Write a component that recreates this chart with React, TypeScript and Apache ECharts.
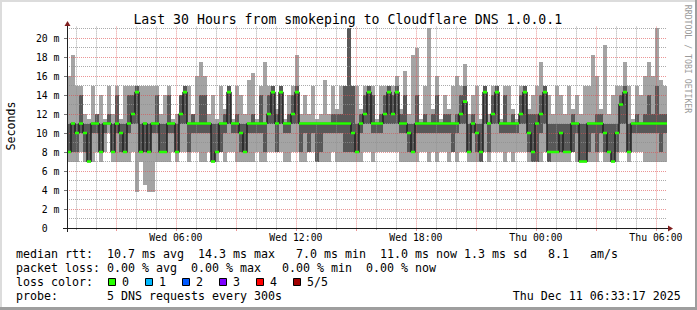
import React, { useEffect, useRef } from 'react';
import * as echarts from 'echarts';

// time axis: hours since Wed 00:00
const startHour = 33 / 60 + 17 / 3600; // Wed 00:33:17
const spanHours = 30;
const endHour = startHour + spanHours;
const stepHours = 0.2; // 12-minute consolidated steps

// smoke: sorted pings per step (ms)
const minMs = [
  7, 7, 7, 8, 7, 7, 7, 8, 7, 8,
  10, 7, 7, 7, 7, 7, 8, 3.8, 7, 4.5,
  3.8, 3.8, 7, 7, 7, 7, 8, 7, 8, 8,
  7, 8, 8, 7, 7, 8, 7, 7, 8, 7,
  8, 8, 7, 7, 7, 7, 7, 8, 7, 7,
  8, 8, 8, 8, 7, 7, 8, 8, 7, 7,
  8, 8, 7, 7, 7, 7, 8, 7, 7, 7,
  7, 7, 7, 7, 8, 8, 7, 8, 8, 8,
  8, 8, 8, 7, 7, 7, 7, 7, 8, 8,
  7, 8, 7, 8, 8, 7, 8, 7, 8, 8,
  7, 7, 7, 7, 8, 7, 8, 8, 8, 7,
  8, 7, 8, 8, 8, 7, 7, 7, 7, 8,
  7, 7, 7, 7, 7, 7, 8, 7, 7, 7,
  7, 7, 7, 8, 7, 7, 7, 7, 8, 8,
  7, 8, 8, 8, 7, 7, 7, 7, 7, 7,
];
const lowMs = [
  8, 8, 8, 10, 8, 7, 10, 10, 8, 10,
  11, 8, 10, 8, 8, 10, 11, 11, 8, 8,
  8, 10, 10, 8, 8, 10, 10, 8, 11, 11,
  8, 10, 10, 10, 10, 10, 7, 8, 8, 10,
  11, 10, 10, 8, 8, 10, 10, 10, 10, 8,
  11, 11, 8, 11, 10, 10, 11, 11, 8, 10,
  8, 10, 7, 8, 10, 10, 10, 10, 10, 8,
  8, 8, 8, 10, 11, 11, 10, 10, 10, 11,
  11, 11, 11, 10, 10, 8, 8, 10, 10, 10,
  10, 10, 10, 10, 10, 10, 8, 10, 11, 11,
  8, 10, 8, 7, 11, 8, 11, 11, 10, 10,
  10, 10, 10, 11, 11, 8, 7, 7, 10, 11,
  7, 8, 8, 8, 8, 8, 8, 10, 7, 7,
  8, 10, 8, 10, 8, 8, 7, 8, 11, 11,
  8, 10, 10, 10, 10, 10, 10, 10, 8, 10,
];
const medianMs = [
  8, 11, 10, 11, 10, 7, 11, 11, 8, 11,
  11, 8, 11, 10, 8, 11, 12, 14.3, 8, 11,
  8, 11, 11, 8, 8, 11, 11, 8, 12, 14.3,
  11, 11, 11, 11, 11, 11, 7, 8, 11, 11,
  14.3, 11, 11, 10, 8, 11, 11, 11, 11, 11,
  12, 14.3, 11, 14.3, 11, 11, 12, 14.3, 11, 11,
  11, 11, 11, 11, 11, 11, 11, 11, 11, 11,
  11, 10, 8, 11, 12, 14.3, 11, 11, 11, 12,
  14.3, 12, 14.3, 11, 11, 10, 8, 11, 11, 11,
  11, 11, 11, 11, 11, 11, 11, 11, 12, 13.3,
  8, 11, 10, 8, 14.3, 11, 12, 14.3, 11, 11,
  11, 11, 11, 12, 14.3, 10, 8, 11, 12, 14.3,
  8, 8, 8, 10, 8, 8, 11, 11, 7, 7,
  11, 11, 11, 11, 10, 8, 7, 10, 13, 14.3,
  8, 11, 11, 11, 11, 11, 11, 11, 11, 11,
];
const highMs = [
  11, 11, 11, 14, 11, 11, 11, 12, 11, 11,
  12, 11, 14, 11, 11, 14, 14, 15, 11, 11,
  11, 11, 14, 11, 11, 14, 11, 11, 14, 15,
  11, 12, 11, 14, 14, 11, 11, 11, 11, 12,
  15, 11, 12, 11, 11, 11, 12, 11, 14, 11,
  14, 15, 12, 15, 11, 12, 14, 15, 11, 11,
  11, 11, 11, 11, 11, 11, 12, 12, 12, 15,
  21.1, 15, 11, 12, 14, 15, 14, 11, 12, 14,
  15, 14, 15, 12, 14, 11, 11, 14, 11, 12,
  11, 12, 14, 11, 12, 12, 11, 12, 14, 15,
  11, 12, 11, 11, 15, 11, 14, 15, 11, 14,
  11, 12, 11, 14, 15, 12, 12, 12, 14, 15,
  11, 11, 11, 11, 11, 11, 12, 11, 11, 11,
  11, 11, 12, 12, 11, 11, 11, 11, 14, 15,
  11, 11, 12, 11, 12, 14, 12, 15, 12, 12,
];
const maxMs = [
  16, 18.2, 15, 15, 12, 11.5, 15, 12, 14, 11.5,
  15, 12, 15, 11.5, 15, 15, 15, 15, 15, 15,
  15, 15, 15, 12, 14, 15, 11.5, 12, 14, 15,
  15, 12, 16, 17.5, 16, 12, 14, 11.5, 15, 12.5,
  15, 11.5, 15, 14, 12, 15.6, 16.3, 11.5, 15, 17.5,
  15, 15, 12.5, 15, 11.5, 14, 15, 18.2, 12, 14,
  12, 15, 11.5, 12, 15.6, 12, 15, 12.5, 15, 15,
  21.1, 15, 15, 12.5, 15, 15, 15, 11.5, 15, 15,
  15, 15, 16, 12.5, 16.5, 12, 18.2, 19, 11.5, 15,
  21.1, 12.5, 16, 11.5, 14, 12.5, 15, 16, 15, 17.3,
  12, 14, 15, 11.5, 15, 12, 15, 15, 11.5, 15,
  15, 12.5, 11.5, 15, 15, 12.5, 14, 15, 17.5, 15,
  14, 12, 15, 14, 12, 15, 12.5, 14, 12, 15,
  15, 18.2, 16, 12.5, 19.3, 12, 14, 15, 15, 17.5,
  15, 11.5, 15, 14, 16, 17.5, 16, 21.1, 15.6, 15,
];

const yMin = 0;
const yMax = 21.2;
const yMajorTicks = [0, 2, 4, 6, 8, 10, 12, 14, 16, 18, 20];
const yMajorLabels = ['0\u00a0\u00a0', '2 m', '4 m', '6 m', '8 m', '10 m', '12 m', '14 m', '16 m', '18 m', '20 m'];
const yMinorTicks = [1, 3, 5, 7, 9, 11, 13, 15, 17, 19, 21];
const xMajorTicks = [3, 6, 9, 12, 15, 18, 21, 24, 27, 30];
const xMinorTicks = [1, 2, 4, 5, 7, 8, 10, 11, 13, 14, 16, 17, 19, 20, 22, 23, 25, 26, 28, 29];
const xLabelTicks = [6, 12, 18, 24, 30];
const xLabelTexts = ['Wed 06:00', 'Wed 12:00', 'Wed 18:00', 'Thu 00:00', 'Thu 06:00'];

const titleText = 'Last 30 Hours from smokeping to Cloudflare DNS 1.0.0.1';
const yAxisTitle = 'Seconds';
const watermarkText = 'RRDTOOL / TOBI OETIKER';
const legendLine1 = 'median rtt:  10.7 ms avg  14.3 ms max   7.0 ms min  11.0 ms now 1.3 ms sd   8.1   am/s';
const legendLine2 = 'packet loss: 0.00 % avg  0.00 % max   0.00 % min  0.00 % now';
const lossLabel = 'loss color:';
const lossNames = ['0', '1', '2', '3', '4', '5/5'];
const lossColors = ['#26ff00', '#00b8ff', '#0059ff', '#7e00ff', '#ff0000', '#a00000'];
const probeLine = 'probe:       5 DNS requests every 300s';
const dateText = 'Thu Dec 11 06:33:17 2025';

const MONO = '"DejaVu Sans Mono", "Liberation Mono", monospace';
const MAJOR_GRID = 'rgba(222,79,79,0.6)';
const MINOR_GRID = 'rgba(143,143,143,0.75)';
const CHAR_W = 7.0;
const LEG_FONT = `11.63px ${MONO}`;

function textRuns(line: string, x0: number, y: number) {
  const out: any[] = [];
  const re = /\S+(?: \S+)*/g;
  let m: RegExpExecArray | null;
  while ((m = re.exec(line))) {
    out.push({
      type: 'text', x: x0 + m.index * CHAR_W, y, z: 20,
      style: { text: m[0], font: LEG_FONT, fill: '#000', textAlign: 'left', textVerticalAlign: 'middle', align: 'left', verticalAlign: 'middle' },
    });
  }
  return out;
}

export default function App() {
  const ref = useRef<HTMLDivElement>(null);
  useEffect(() => {
    const chart = echarts.init(ref.current!, null, { renderer: 'svg' });
    const smokeData = minMs.map((v, i) => [startHour + i * stepHours, v, lowMs[i], medianMs[i], highMs[i], maxMs[i]]);
    const medLine = medianMs.map((v, i) => [startHour + i * stepHours, v]);
    medLine.push([startHour + medianMs.length * stepHours, medianMs[medianMs.length - 1]]);
    const medData = medianMs.map((v, i) => [startHour + i * stepHours, v]);

    const lossGraphics: any[] = [];
    lossNames.forEach((name, k) => {
      const bx = 108 + k * 36.9;
      lossGraphics.push({ type: 'rect', z: 20, shape: { x: Math.round(bx) + 0.5, y: 278.5, width: 7, height: 7 }, style: { fill: lossColors[k], stroke: '#000', lineWidth: 1 } });
      lossGraphics.push({ type: 'text', z: 20, x: Math.round(bx) + 14, y: 282, style: { text: name, font: LEG_FONT, fill: '#000', textAlign: 'left', textVerticalAlign: 'middle', align: 'left', verticalAlign: 'middle' } });
    });

    const option: any = {
      animation: false,
      backgroundColor: '#ffffff',
      grid: { left: 67, right: 30, top: 228 - yMax * 9.5, bottom: 82, containLabel: false },
      xAxis: [
        {
          type: 'value', min: startHour, max: endHour, position: 'bottom', z: 3,
          axisLine: { show: false },
          axisTick: { show: true, customValues: xMajorTicks, length: 3, lineStyle: { color: MAJOR_GRID } },
          axisLabel: {
            customValues: xLabelTicks, margin: 4, color: '#000', fontFamily: MONO, fontSize: 9.8,
            formatter: (v: number) => { const k = xLabelTicks.findIndex((t) => Math.abs(t - v) < 1e-6); return k >= 0 ? xLabelTexts[k] : ''; },
          },
          splitLine: { show: true, lineStyle: { color: MAJOR_GRID, type: [1, 1], width: 1 } },
        },
        {
          type: 'value', min: startHour, max: endHour, position: 'bottom', z: 3,
          axisLine: { show: false },
          axisTick: { show: true, customValues: xMinorTicks, length: 2, lineStyle: { color: MINOR_GRID } },
          axisLabel: { show: false },
          splitLine: { show: true, lineStyle: { color: MINOR_GRID, type: [1, 1], width: 1 } },
        },
      ],
      yAxis: [
        {
          type: 'value', min: yMin, max: yMax, z: 3,
          axisLine: { show: false },
          axisTick: { show: true, customValues: yMajorTicks, length: 3, lineStyle: { color: '#777' } },
          axisLabel: {
            customValues: yMajorTicks, margin: 7.5, color: '#000', fontFamily: MONO, fontSize: 9.8,
            formatter: (v: number) => { const k = yMajorTicks.findIndex((t) => Math.abs(t - v) < 1e-6); return k >= 0 ? yMajorLabels[k] : ''; },
          },
          splitLine: { show: true, lineStyle: { color: MAJOR_GRID, type: [1, 1], width: 1 } },
        },
        {
          type: 'value', min: yMin, max: yMax, z: 3,
          axisLine: { show: false },
          axisTick: { show: false, customValues: yMinorTicks },
          axisLabel: { show: false },
          splitLine: { show: true, lineStyle: { color: MINOR_GRID, type: [1, 1], width: 1 } },
        },
      ],
      series: [
        {
          type: 'custom', name: 'smoke', z: 2, clip: true, xAxisIndex: 0, yAxisIndex: 0,
          encode: { x: 0, y: [1, 5] },
          data: smokeData,
          renderItem: (params: any, api: any) => {
            const t0 = api.value(0);
            const pTop = api.coord([t0, api.value(5)]);
            const pBot = api.coord([t0 + stepHours, api.value(1)]);
            const x0 = Math.round(pTop[0]);
            const x1 = Math.round(pBot[0]);
            const yTop = Math.round(pTop[1]);
            const yBot = Math.round(pBot[1]);
            const yQ3 = Math.round(api.coord([t0, api.value(4)])[1]);
            const yQ1 = Math.round(api.coord([t0, api.value(2)])[1]);
            return {
              type: 'group',
              children: [
                { type: 'rect', shape: { x: x0, y: yTop, width: x1 - x0, height: yBot - yTop }, style: { fill: '#a4a4a4' } },
                { type: 'rect', shape: { x: x0, y: yQ3, width: x1 - x0, height: yQ1 - yQ3 }, style: { fill: '#585858' } },
              ],
            };
          },
        },
        {
          type: 'line', name: 'median', z: 4, step: 'end', xAxisIndex: 0, yAxisIndex: 0,
          showSymbol: false, symbol: 'none',
          data: medLine,
          lineStyle: { color: '#202020', width: 1.5 },
        },
        {
          type: 'custom', name: 'median loss', z: 5, clip: true, xAxisIndex: 0, yAxisIndex: 0,
          encode: { x: 0, y: 1 },
          data: medData,
          renderItem: (params: any, api: any) => {
            const t0 = api.value(0);
            const p = api.coord([t0, api.value(1)]);
            const p1 = api.coord([t0 + stepHours, api.value(1)]);
            const x0 = Math.round(p[0]);
            const x1 = Math.round(p1[0]);
            return { type: 'rect', shape: { x: x0, y: p[1] - 1.3, width: x1 - x0, height: 2.6 }, style: { fill: lossColors[0] } };
          },
        },
      ],
      graphic: [
        { type: 'line', z: 10, shape: { x1: 67.5, y1: 232, x2: 67.5, y2: 25 }, style: { stroke: '#1f1f1f', lineWidth: 1 } },
        { type: 'polygon', z: 10, shape: { points: [[64.5, 26], [70.5, 26], [67.5, 21]] }, style: { fill: '#801f1f' } },
        { type: 'line', z: 10, shape: { x1: 63, y1: 228.5, x2: 669, y2: 228.5 }, style: { stroke: '#1f1f1f', lineWidth: 1 } },
        { type: 'polygon', z: 10, shape: { points: [[668, 225.5], [668, 231.5], [673, 228.5]] }, style: { fill: '#801f1f' } },
        { type: 'text', z: 20, x: 347.8, y: 19.4, style: { text: titleText, font: `13.2px ${MONO}`, fill: '#000', textAlign: 'center', textVerticalAlign: 'middle', align: 'center', verticalAlign: 'middle' } },
        { type: 'text', z: 20, x: 10.5, y: 126, rotation: Math.PI / 2, style: { text: yAxisTitle, font: LEG_FONT, fill: '#000', textAlign: 'center', textVerticalAlign: 'middle', align: 'center', verticalAlign: 'middle' } },
        { type: 'text', z: 20, x: 688, y: 59, rotation: -Math.PI / 2, style: { text: watermarkText, font: `8.2px ${MONO}`, fill: '#9a9a9a', textAlign: 'center', textVerticalAlign: 'middle', align: 'center', verticalAlign: 'middle' } },
        ...textRuns(legendLine1, 16, 254),
        ...textRuns(legendLine2, 16, 268),
        ...textRuns(lossLabel, 16, 282),
        ...lossGraphics,
        ...textRuns(probeLine, 16, 296),
        { type: 'text', z: 20, x: 680.7, y: 296, style: { text: dateText, font: LEG_FONT, fill: '#000', textAlign: 'right', textVerticalAlign: 'middle', align: 'right', verticalAlign: 'middle' } },
        { type: 'rect', z: 1, shape: { x: 0, y: 0, width: 697, height: 2 }, style: { fill: '#dcdcdc' } },
        { type: 'rect', z: 1, shape: { x: 0, y: 0, width: 2, height: 310 }, style: { fill: '#dcdcdc' } },
        { type: 'rect', z: 1, shape: { x: 695, y: 0, width: 2, height: 310 }, style: { fill: '#9e9e9e' } },
        { type: 'rect', z: 1, shape: { x: 0, y: 307, width: 697, height: 3 }, style: { fill: '#9e9e9e' } },
      ],
    };
    chart.setOption(option);
    return () => chart.dispose();
  }, []);
  return <div ref={ref} style={{ position: 'absolute', left: 0, top: 0, width: 697, height: 310 }} />;
}
